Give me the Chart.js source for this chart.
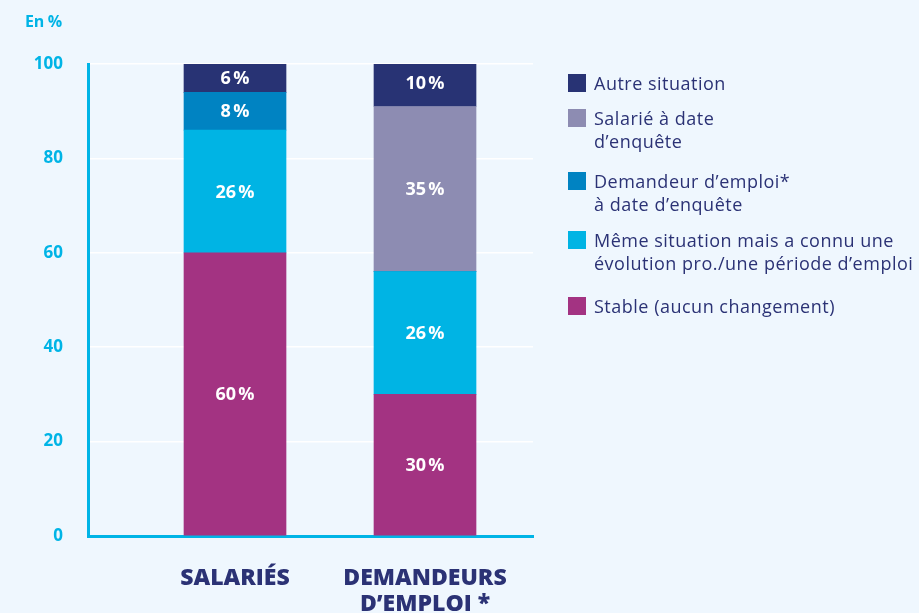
<!DOCTYPE html>
<html><head><meta charset="utf-8">
<script src="https://cdn.jsdelivr.net/npm/chart.js@4/dist/chart.umd.min.js"></script>
<style>
html,body{margin:0;padding:0;background:#eff7fe;}
#wrap{position:relative;width:919px;height:613px;overflow:hidden;font-family:"Open Sans",sans-serif;background:#eff7fe;}
#chart{position:absolute;left:0;top:0;}
#unit{position:absolute;left:25px;top:10px;color:#00b4e6;font-weight:700;font-size:16px;letter-spacing:-0.3px;}
#legend{position:absolute;left:568px;top:0;color:#2b3275;font-size:18px;font-weight:500;letter-spacing:0.5px;}
.item{position:absolute;left:0;padding-left:26px;line-height:23px;white-space:pre;}
.sw{position:absolute;left:0;top:2px;width:18px;height:18px;}
.item:nth-child(1){top:72px;}
.item:nth-child(2){top:107px;}
.item:nth-child(3){top:170px;}
.item:nth-child(4){top:229px;}
.item:nth-child(5){top:295px;}
</style></head>
<body>
<div id="wrap">
<canvas id="chart" width="919" height="613"></canvas>
<div id="unit">En %</div>
<div id="legend"></div>
</div>
<script>
const categories = ['SALARIÉS', ['DEMANDEURS', 'D’EMPLOI *']];
const seriesNames = [
  'Stable (aucun changement)',
  'Même situation mais a connu une\névolution pro./une période d’emploi',
  'Demandeur d’emploi*\nà date d’enquête',
  'Salarié à date\nd’enquête',
  'Autre situation'
];
const stable = [60, 30];
const memeSituation = [26, 26];
const demandeurEmploi = [8, 0];
const salarieDate = [0, 35];
const autreSituation = [6, 10];
const yTicks = [0, 20, 40, 60, 80, 100];

const series = [stable, memeSituation, demandeurEmploi, salarieDate, autreSituation];
const colors = ['#a33382', '#00b4e4', '#0083c2', '#8d8cb2', '#283374'];
const positions = categories.map((_, i) => i + 1);

// HTML legend (top to bottom = reverse stacking order)
const legend = document.getElementById('legend');
for (let i = series.length - 1; i >= 0; i--) {
  const it = document.createElement('div');
  it.className = 'item';
  const sw = document.createElement('span');
  sw.className = 'sw';
  sw.style.background = colors[i];
  it.appendChild(sw);
  it.appendChild(document.createTextNode(seriesNames[i]));
  legend.appendChild(it);
}

const barLabels = {
  id: 'barLabels',
  afterDatasetsDraw(chart) {
    const ctx = chart.ctx;
    ctx.save();
    ctx.font = '700 18px "Open Sans"';
    ctx.fillStyle = '#ffffff';
    ctx.textAlign = 'center';
    ctx.textBaseline = 'middle';
    chart.data.datasets.forEach((ds, di) => {
      chart.getDatasetMeta(di).data.forEach((el, i) => {
        const v = ds.data[i];
        if (!v) return;
        ctx.fillText(v + '\u202F%', el.x, (el.y + el.base) / 2 + 1);
      });
    });
    ctx.restore();
  }
};

new Chart(document.getElementById('chart'), {
  type: 'bar',
  data: {
    labels: positions,
    datasets: series.map((d, i) => ({
      label: seriesNames[i],
      data: d,
      backgroundColor: colors[i],
      borderWidth: 0,
      barThickness: 102,
      clip: 0
    }))
  },
  options: {
    responsive: false,
    animation: false,
    devicePixelRatio: 1,
    layout: { padding: { top: 64, right: 386, left: 0, bottom: 0 } },
    plugins: { legend: { display: false }, tooltip: { enabled: false } },
    scales: {
      x: {
        type: 'linear',
        stacked: true,
        offset: false,
        min: 0.2263,
        max: 2.5684,
        z: 1,
        afterBuildTicks: s => { s.ticks = positions.map(v => ({ value: v })); },
        afterFit: s => { s.height = 77; },
        grid: { display: false, drawTicks: false, offset: false },
        border: { display: true, color: '#00b4e6', width: 3 },
        ticks: {
          autoSkip: false, maxRotation: 0, minRotation: 0, padding: 29,
          color: '#2b3275',
          font: { family: '"Open Sans"', weight: '800', size: 23, lineHeight: 1.13 },
          callback: v => categories[Math.round(v) - 1]
        }
      },
      y: {
        stacked: true,
        min: 0,
        max: 100,
        afterBuildTicks: s => { s.ticks = yTicks.map(v => ({ value: v })); },
        afterFit: s => { s.width = 88; },
        grid: { color: '#ffffff', lineWidth: 1.5, drawTicks: false },
        border: { display: true, color: '#00b4e6', width: 3 },
        ticks: {
          padding: 25,
          color: '#00b4e6',
          font: { family: '"Open Sans"', weight: '700', size: 17 }
        }
      }
    }
  },
  plugins: [barLabels]
});
</script>
</body></html>
